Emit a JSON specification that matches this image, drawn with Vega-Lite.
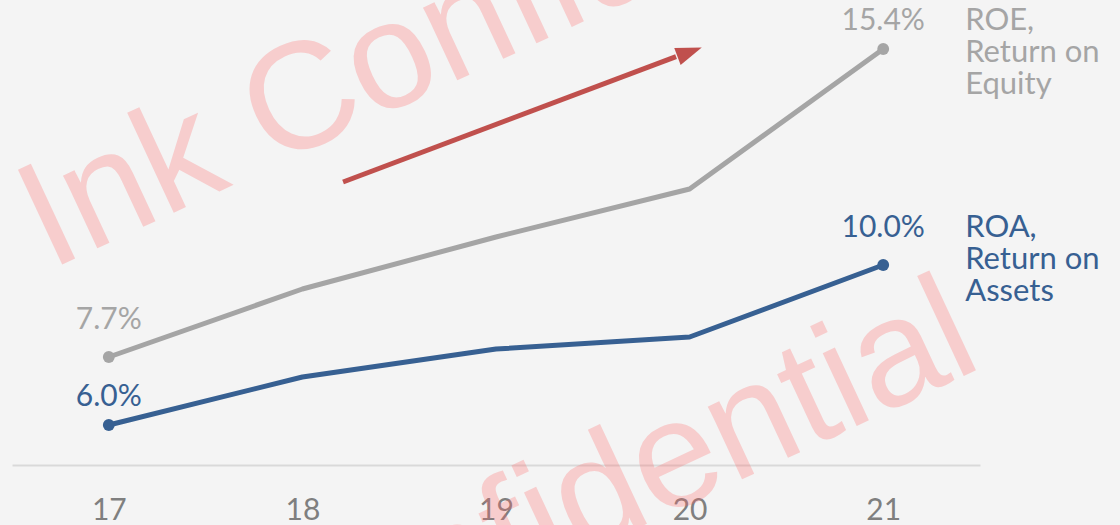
{
  "$schema": "https://vega.github.io/schema/vega-lite/v6.json",
  "width": 968,
  "height": 460,
  "autosize": {"type": "none"},
  "padding": {"left": 12, "top": 5, "right": 140, "bottom": 60},
  "background": "#f4f4f4",
  "config": {"view": {"stroke": null}, "font": "Lato"},
  "datasets": {
    "series": [
      {"series": "ROE", "year": 17, "value": 0.077},
      {"series": "ROE", "year": 18, "value": 0.094},
      {"series": "ROE", "year": 19, "value": 0.107},
      {"series": "ROE", "year": 20, "value": 0.119},
      {"series": "ROE", "year": 21, "value": 0.154},
      {"series": "ROA", "year": 17, "value": 0.060},
      {"series": "ROA", "year": 18, "value": 0.072},
      {"series": "ROA", "year": 19, "value": 0.079},
      {"series": "ROA", "year": 20, "value": 0.082},
      {"series": "ROA", "year": 21, "value": 0.100}
    ],
    "legend": [
      {"series": "ROE", "year": 21, "value": 0.154, "label": ["ROE,", "Return on", "Equity"]},
      {"series": "ROA", "year": 21, "value": 0.100, "label": ["ROA,", "Return on", "Assets"]}
    ],
    "arrow": [
      {"year": 18.21, "value": 0.12075},
      {"year": 19.93, "value": 0.1521}
    ],
    "arrowhead": [
      {"year": 20.0, "value": 0.15325}
    ],
    "watermark": [
      {"pos": "top", "text": "Ink Confidential", "year": 16.694, "value": 0.098625},
      {"pos": "bottom", "text": "Ink Confidential", "year": 21.527, "value": 0.07478}
    ]
  },
  "encoding": {
    "x": {
      "field": "year", "type": "quantitative",
      "scale": {"domain": [16.5, 21.5], "nice": false, "zero": false},
      "axis": {
        "values": [17, 18, 19, 20, 21], "format": "d", "title": null,
        "grid": false, "ticks": false, "domainColor": "#d9d9d9", "domainWidth": 2,
        "labelFont": "Lato", "labelFontSize": 30, "labelColor": "#7f7f7f",
        "labelPadding": 30
      }
    },
    "y": {
      "field": "value", "type": "quantitative",
      "scale": {"domain": [0.05, 0.165], "nice": false, "zero": false},
      "axis": null
    }
  },
  "layer": [
    {
      "data": {"name": "series"},
      "mark": {"type": "line", "strokeWidth": 5, "strokeCap": "round", "strokeJoin": "round"},
      "encoding": {
        "color": {"field": "series", "type": "nominal",
          "scale": {"domain": ["ROE", "ROA"], "range": ["#a5a5a5", "#376092"]}, "legend": null}
      }
    },
    {
      "data": {"name": "series"},
      "transform": [{"filter": "datum.year == 17 || datum.year == 21"}],
      "mark": {"type": "point", "filled": true, "size": 140, "opacity": 1},
      "encoding": {
        "color": {"field": "series", "type": "nominal",
          "scale": {"domain": ["ROE", "ROA"], "range": ["#a5a5a5", "#376092"]}, "legend": null}
      }
    },
    {
      "data": {"name": "series"},
      "transform": [{"filter": "(datum.series == 'ROE' && datum.year == 17) || (datum.series == 'ROA' && datum.year == 21)"}],
      "mark": {"type": "text", "fontSize": 30, "dy": -37, "baseline": "middle", "align": "center"},
      "encoding": {
        "text": {"field": "value", "type": "quantitative", "format": ".1%"},
        "color": {"field": "series", "type": "nominal",
          "scale": {"domain": ["ROE", "ROA"], "range": ["#a5a5a5", "#376092"]}, "legend": null}
      }
    },
    {
      "data": {"name": "series"},
      "transform": [{"filter": "(datum.series == 'ROE' && datum.year == 21) || (datum.series == 'ROA' && datum.year == 17)"}],
      "mark": {"type": "text", "fontSize": 30, "dy": -28, "baseline": "middle", "align": "center"},
      "encoding": {
        "text": {"field": "value", "type": "quantitative", "format": ".1%"},
        "color": {"field": "series", "type": "nominal",
          "scale": {"domain": ["ROE", "ROA"], "range": ["#a5a5a5", "#376092"]}, "legend": null}
      }
    },
    {
      "data": {"name": "legend"},
      "transform": [{"filter": "datum.series == 'ROE'"}],
      "mark": {"type": "text", "fontSize": 31, "dx": 82, "dy": -28, "baseline": "middle", "align": "left", "lineHeight": 32},
      "encoding": {
        "text": {"field": "label"},
        "color": {"field": "series", "type": "nominal",
          "scale": {"domain": ["ROE", "ROA"], "range": ["#a5a5a5", "#376092"]}, "legend": null}
      }
    },
    {
      "data": {"name": "legend"},
      "transform": [{"filter": "datum.series == 'ROA'"}],
      "mark": {"type": "text", "fontSize": 31, "dx": 82, "dy": -37, "baseline": "middle", "align": "left", "lineHeight": 32},
      "encoding": {
        "text": {"field": "label"},
        "color": {"field": "series", "type": "nominal",
          "scale": {"domain": ["ROE", "ROA"], "range": ["#a5a5a5", "#376092"]}, "legend": null}
      }
    },
    {
      "data": {"name": "arrow"},
      "mark": {"type": "line", "color": "#c0504d", "strokeWidth": 5},
      "encoding": {}
    },
    {
      "data": {"name": "arrowhead"},
      "mark": {"type": "point", "shape": "M-1,-0.7L1,0L-1,0.7Z", "filled": true, "color": "#c0504d", "opacity": 1, "size": 676, "angle": 339.4},
      "encoding": {}
    },
    {
      "data": {"name": "watermark"},
      "transform": [{"filter": "datum.pos == 'top'"}],
      "mark": {"type": "text", "font": "Liberation Sans", "fontSize": 152, "angle": 335, "align": "left", "baseline": "alphabetic", "color": "#ff6666", "opacity": 0.27},
      "encoding": {"text": {"field": "text"}}
    },
    {
      "data": {"name": "watermark"},
      "transform": [{"filter": "datum.pos == 'bottom'"}],
      "mark": {"type": "text", "font": "Liberation Sans", "fontSize": 152, "angle": 335, "align": "right", "baseline": "alphabetic", "color": "#ff6666", "opacity": 0.27},
      "encoding": {"text": {"field": "text"}}
    }
  ]
}
